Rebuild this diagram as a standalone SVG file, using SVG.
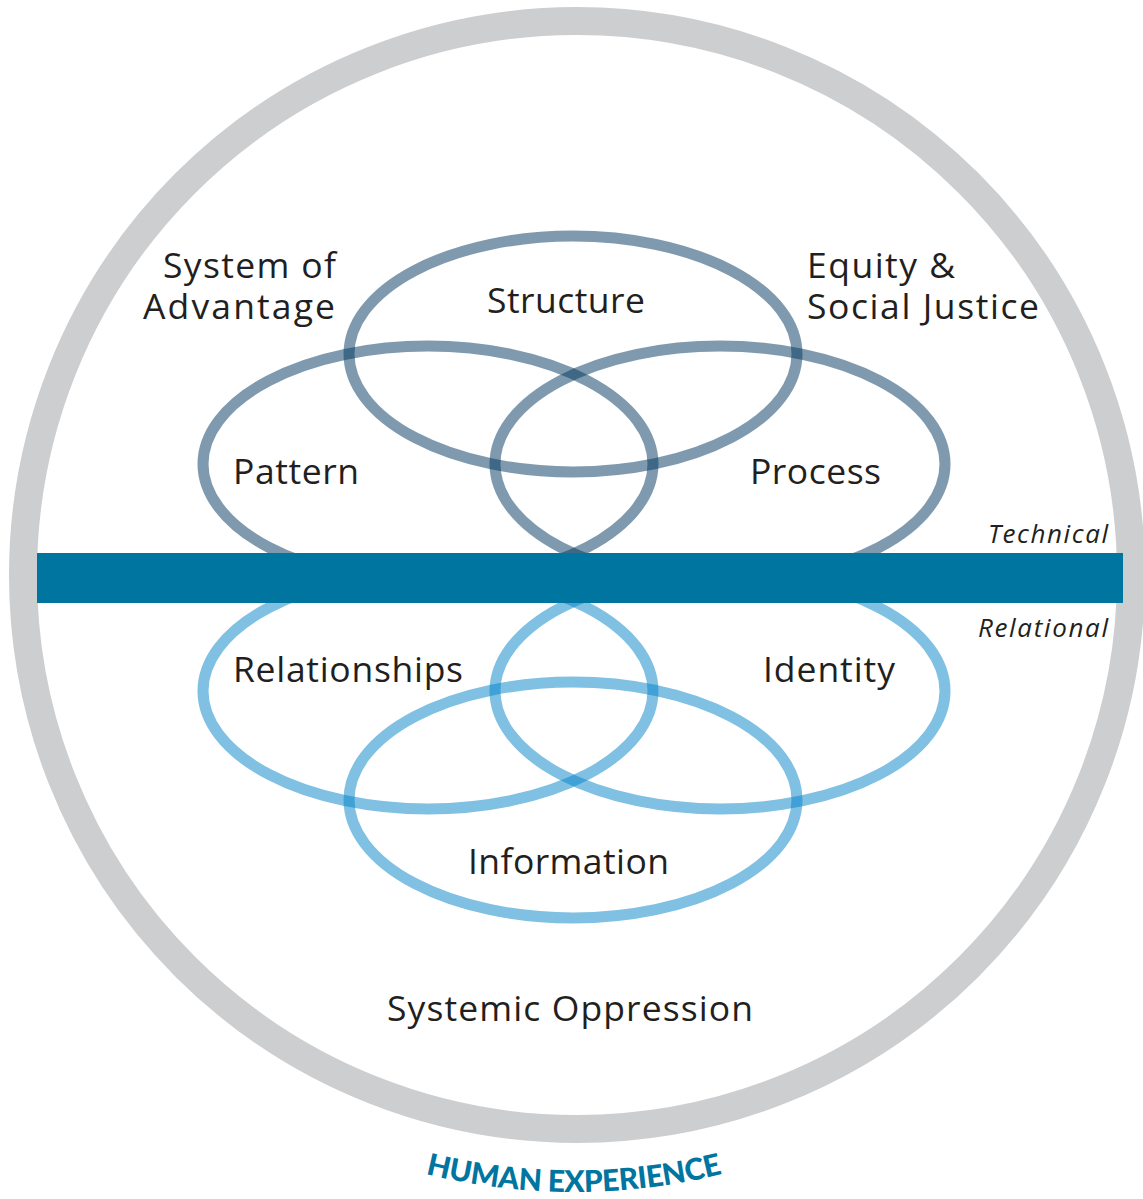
<svg xmlns="http://www.w3.org/2000/svg" width="1143" height="1199" viewBox="0 0 1143 1199">
<style>
.lbl{font-family:"Open Sans",Lato,"Liberation Sans",sans-serif;font-size:35.5px;fill:#231f20}
.it{font-family:"Open Sans",Lato,"Liberation Sans",sans-serif;font-size:26px;font-style:italic;fill:#231f20}
.tech{fill:none;stroke:#00365f;stroke-opacity:0.5;stroke-width:11}
.rel{fill:none;stroke:#0082c8;stroke-opacity:0.5;stroke-width:11}
.hx{font-family:Lato,"Open Sans","Liberation Sans",sans-serif;font-size:30px;font-weight:900;fill:#0075a0}
</style>
<defs>
<path id="arc" d="M -44 574 A 618 618 0 0 0 1192 574"/>
</defs>
<g id="human-experience">
<circle cx="577" cy="575" r="554" fill="#fff" stroke="#cdced0" stroke-width="28"/>
<text class="hx"><textPath href="#arc" startOffset="50%" text-anchor="middle" textLength="300">HUMAN EXPERIENCE</textPath></text>
</g>
<g id="technical">
<g id="structure"><ellipse class="tech" cx="573" cy="354" rx="224" ry="118"/></g>
<g id="pattern"><ellipse class="tech" cx="428" cy="464" rx="225" ry="118"/></g>
<g id="process"><ellipse class="tech" cx="720" cy="464" rx="225" ry="118"/></g>
</g>
<g id="relational">
<g id="relationships"><ellipse class="rel" cx="428" cy="691" rx="225" ry="118"/></g>
<g id="identity"><ellipse class="rel" cx="720" cy="691" rx="225" ry="118"/></g>
<g id="information"><ellipse class="rel" cx="573" cy="800" rx="224" ry="118"/></g>
</g>
<g id="divider"><rect x="37" y="553" width="1086" height="50" fill="#0075a0"/></g>
<g id="labels">
<text class="lbl" text-anchor="end"><tspan x="336" y="278" textLength="173">System of</tspan><tspan x="335" y="319" textLength="192">Advantage</tspan></text>
<text class="lbl"><tspan x="807" y="278" textLength="148">Equity &amp;</tspan><tspan x="807" y="319" textLength="232">Social Justice</tspan></text>
<text class="lbl" x="487" y="313" textLength="158">Structure</text>
<text class="lbl" x="233" y="484" textLength="126">Pattern</text>
<text class="lbl" x="750" y="484" textLength="131">Process</text>
<text class="lbl" x="233" y="682" textLength="230">Relationships</text>
<text class="lbl" x="763" y="682" textLength="132">Identity</text>
<text class="lbl" x="468" y="874" textLength="201">Information</text>
<text class="lbl" x="387" y="1021" textLength="366">Systemic Oppression</text>
<text class="it" x="1108" y="543" text-anchor="end" textLength="120">Technical</text>
<text class="it" x="1108" y="637" text-anchor="end" textLength="130">Relational</text>
</g>
</svg>
